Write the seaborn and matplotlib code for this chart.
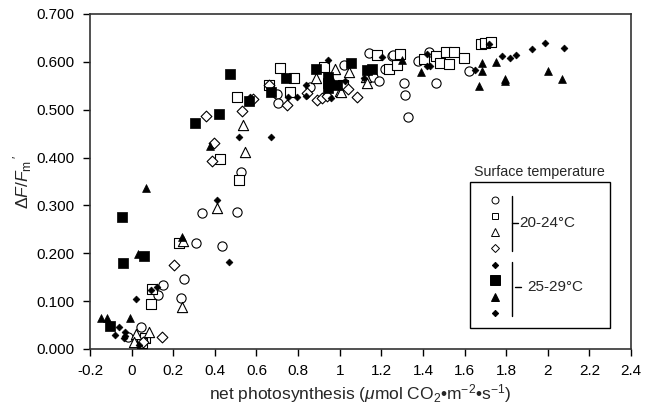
import numpy as np
import pandas as pd
import matplotlib
matplotlib.use("Agg")
import matplotlib.pyplot as plt
import seaborn as sns
from matplotlib.patches import Rectangle
from matplotlib.lines import Line2D

# ---------------- data ----------------
circle_x = [0.043, -0.016, 0.128, 0.152, 0.235, 0.251, 0.311, 0.436, 0.336, 0.504, 0.524,
            0.70, 0.705, 0.855, 1.02, 1.14, 1.159, 1.188, 1.22, 1.252, 1.257, 1.308, 1.316,
            1.329, 1.375, 1.431, 1.462, 1.62]
circle_y = [0.047, 0.026, 0.113, 0.134, 0.106, 0.146, 0.221, 0.216, 0.285, 0.286, 0.369,
            0.533, 0.513, 0.548, 0.593, 0.619, 0.569, 0.559, 0.586, 0.613, 0.614, 0.555, 0.531,
            0.484, 0.602, 0.621, 0.556, 0.581]

square_x = [0.064, 0.051, 0.091, 0.099, 0.227, 0.515, 0.424, 0.504, 0.711, 0.66, 0.759, 0.78,
            0.924, 1.017, 1.18, 1.239, 1.289, 1.276, 1.404, 1.465, 1.484, 1.524, 1.513, 1.548,
            1.599, 1.681, 1.697, 1.728]
square_y = [0.022, 0.012, 0.093, 0.125, 0.222, 0.353, 0.398, 0.527, 0.587, 0.552, 0.538, 0.566,
            0.590, 0.552, 0.614, 0.586, 0.616, 0.593, 0.605, 0.612, 0.598, 0.595, 0.621, 0.621,
            0.607, 0.637, 0.640, 0.642]

triangle_x = [0.023, 0.011, 0.083, 0.244, 0.246, 0.412, 0.543, 0.536, 0.884, 0.975, 0.999,
              1.044, 1.124, 1.129, 1.004, 0.96]
triangle_y = [0.031, 0.015, 0.035, 0.088, 0.226, 0.295, 0.412, 0.468, 0.566, 0.586, 0.539,
              0.579, 0.569, 0.555, 0.536, 0.564]

diamond_x = [0.147, 0.203, 0.388, 0.395, 0.355, 0.528, 0.585, 0.66, 0.748, 0.844, 0.892, 0.916,
             0.94, 1.041, 1.084, 0.055]
diamond_y = [0.026, 0.175, 0.393, 0.431, 0.487, 0.498, 0.522, 0.552, 0.510, 0.534, 0.520, 0.524,
             0.529, 0.543, 0.527, 0.015]

fdiamA_x = [0.019, -0.061, -0.08, -0.032, 0.035, 0.091, 0.412, 0.515, 0.568, 0.751, 0.836,
            0.943, 1.024, 1.204, 1.42, 1.652, 1.78, 1.846, 1.985]
fdiamA_y = [0.104, 0.045, 0.029, 0.036, 0.008, 0.123, 0.311, 0.444, 0.527, 0.527, 0.552,
            0.604, 0.559, 0.611, 0.616, 0.583, 0.612, 0.615, 0.640]

fdiamB_x = [-0.032, -0.037, 0.123, 0.467, 0.671, 0.796, 0.836, 0.956, 1.119, 1.42, 1.436,
            1.716, 1.82, 1.925, 2.076]
fdiamB_y = [0.028, 0.022, 0.129, 0.181, 0.444, 0.527, 0.529, 0.524, 0.566, 0.591, 0.591,
            0.637, 0.609, 0.627, 0.629]

fsquare_x = [-0.106, -0.043, 0.058, -0.045, 0.303, 0.421, 0.475, 0.562, 0.668, 0.743, 0.884,
             0.946, 0.946, 0.946, 0.988, 1.052, 1.132, 1.156]
fsquare_y = [0.048, 0.180, 0.194, 0.276, 0.473, 0.492, 0.575, 0.518, 0.536, 0.566, 0.586,
             0.568, 0.556, 0.545, 0.552, 0.597, 0.584, 0.586]

ftri_x = [-0.149, -0.12, -0.01, 0.029, 0.067, 0.243, 0.376, 1.297, 1.391, 1.684, 1.684, 1.668,
          1.753, 1.793, 1.793, 2.0, 2.07]
ftri_y = [0.064, 0.064, 0.065, 0.198, 0.336, 0.233, 0.425, 0.604, 0.578, 0.598, 0.581, 0.550,
          0.600, 0.565, 0.561, 0.581, 0.565]

x_ticks = [-0.2, 0, 0.2, 0.4, 0.6, 0.8, 1, 1.2, 1.4, 1.6, 1.8, 2, 2.2, 2.4]
x_tick_labels = ["-0.2", "0", "0.2", "0.4", "0.6", "0.8", "1", "1.2", "1.4", "1.6", "1.8", "2", "2.2", "2.4"]
y_ticks = [0.0, 0.1, 0.2, 0.3, 0.4, 0.5, 0.6, 0.7]
y_tick_labels = ["0.000", "0.100", "0.200", "0.300", "0.400", "0.500", "0.600", "0.700"]
group_labels = ["20-24°C", "25-29°C"]

# ---------------- style ----------------
sns.set_style("ticks")
plt.rcParams["font.family"] = ["Liberation Sans", "DejaVu Sans"]
plt.rcParams["mathtext.fontset"] = "custom"
plt.rcParams["mathtext.rm"] = "Liberation Sans"
plt.rcParams["mathtext.it"] = "Liberation Sans:italic"
plt.rcParams["mathtext.bf"] = "Liberation Sans:bold"

fig = plt.figure(figsize=(6.5, 4.09), dpi=100)
ax = fig.add_axes([0.1385, 0.1467, 0.9708 - 0.1385, 0.9658 - 0.1467])

series = [
    (circle_x, circle_y, "o", "white", 44, 0.8),
    (square_x, square_y, "s", "white", 44, 0.8),
    (triangle_x, triangle_y, "^", "white", 54, 0.8),
    (diamond_x, diamond_y, "D", "white", 30, 0.8),
    (fdiamA_x, fdiamA_y, "D", "black", 12, 0.5),
    (fdiamB_x, fdiamB_y, "D", "black", 12, 0.5),
    (fsquare_x, fsquare_y, "s", "black", 44, 0.5),
    (ftri_x, ftri_y, "^", "black", 32, 0.5),
]
for xs, ys, mk, fc, sz, lw in series:
    df = pd.DataFrame({"x": xs, "y": ys})
    sns.scatterplot(data=df, x="x", y="y", marker=mk, s=sz, facecolor=fc,
                    edgecolor="black", linewidth=lw, ax=ax, legend=False, zorder=3)

ax.set_xlim(-0.2, 2.4)
ax.set_ylim(0, 0.7)
ax.set_xticks(x_ticks)
ax.set_xticklabels(x_tick_labels)
ax.set_yticks(y_ticks)
ax.set_yticklabels(y_tick_labels)
ax.tick_params(axis="both", direction="out", length=5, width=1, labelsize=11,
               colors="black", pad=6)
for sp in ax.spines.values():
    sp.set_visible(True)
    sp.set_color("#333333")
    sp.set_linewidth(1.2)

ax.set_xlabel(r"net photosynthesis ($\mu$mol CO$_2$•m$^{-2}$•s$^{-1}$)", fontsize=12.5, labelpad=3)
ax.set_ylabel(r"$\Delta F/F_\mathrm{m}\,'$", fontsize=12.5, labelpad=2)

# ---------------- custom legend ----------------
T = ax.transAxes
ax.text(0.830, 0.528, "Surface temperature", transform=T, ha="center", va="center", fontsize=10.3)
ax.add_patch(Rectangle((0.702, 0.063), 0.961 - 0.702, 0.499 - 0.063, transform=T,
                       fill=False, edgecolor="black", linewidth=1.0, zorder=4))
leg_y = [0.445, 0.397, 0.349, 0.301, 0.251, 0.206, 0.155, 0.107]
leg_style = [("o", "white", 5), ("s", "white", 5), ("^", "white", 5.5), ("D", "white", 4),
             ("D", "black", 3.2), ("s", "black", 6.5), ("^", "black", 5.5), ("D", "black", 3.2)]
for yy, (mk, fc, ms) in zip(leg_y, leg_style):
    ax.add_line(Line2D([0.749], [yy], transform=T, marker=mk, markersize=ms,
                       markerfacecolor=fc, markeredgecolor="black", markeredgewidth=0.7,
                       linestyle="none", clip_on=False, zorder=5))
# brackets
ax.add_line(Line2D([0.780, 0.780], [0.457, 0.293], transform=T, color="black", lw=1.0, clip_on=False))
ax.add_line(Line2D([0.780, 0.791], [0.376, 0.376], transform=T, color="black", lw=1.0, clip_on=False))
ax.text(0.793, 0.376, group_labels[0], transform=T, ha="left", va="center", fontsize=11)
ax.add_line(Line2D([0.780, 0.780], [0.260, 0.099], transform=T, color="black", lw=1.0, clip_on=False))
ax.add_line(Line2D([0.786, 0.796], [0.185, 0.185], transform=T, color="black", lw=1.0, clip_on=False))
ax.text(0.808, 0.185, group_labels[1], transform=T, ha="left", va="center", fontsize=11)

fig.savefig("out.png", dpi=100)
